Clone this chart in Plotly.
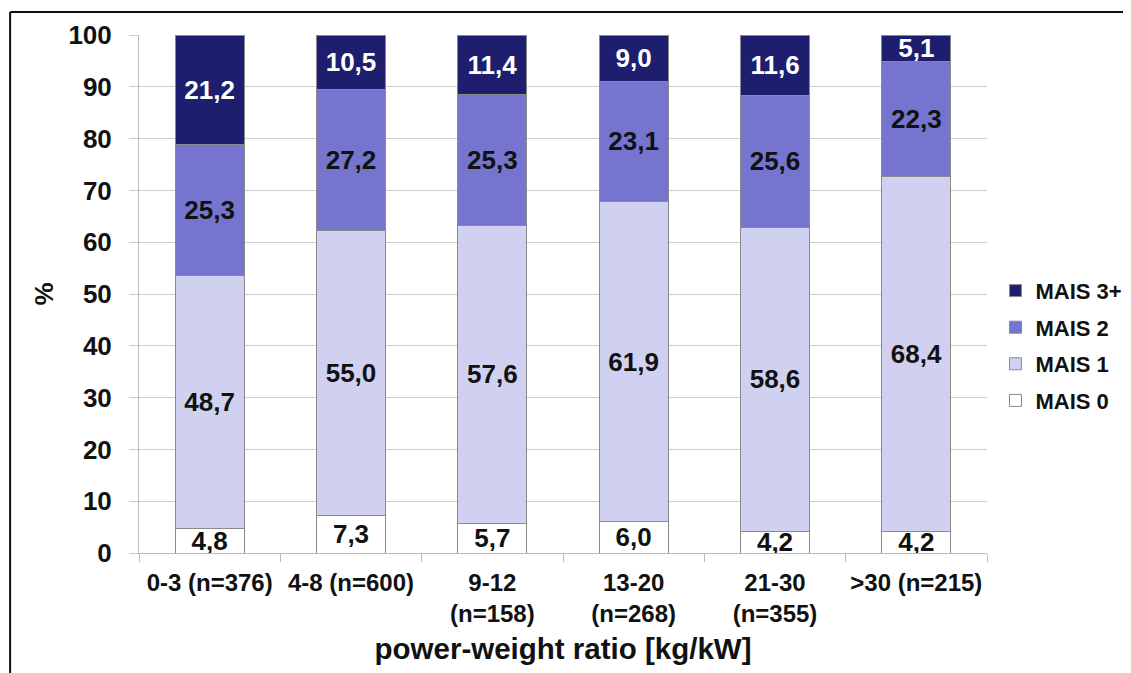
import plotly.graph_objects as go

categories = ["0-3 (n=376)", "4-8 (n=600)", "9-12<br>(n=158)", "13-20<br>(n=268)",
              "21-30<br>(n=355)", ">30 (n=215)"]
mais0 = [4.8, 7.3, 5.7, 6.0, 4.2, 4.2]
mais1 = [48.7, 55.0, 57.6, 61.9, 58.6, 68.4]
mais2 = [25.3, 27.2, 25.3, 23.1, 25.6, 22.3]
mais3 = [21.2, 10.5, 11.4, 9.0, 11.6, 5.1]

series = [
    ("MAIS 0", mais0, "#ffffff", "#111111", 4),
    ("MAIS 1", mais1, "#d0d0f0", "#111111", 3),
    ("MAIS 2", mais2, "#7575cf", "#111111", 2),
    ("MAIS 3+", mais3, "#1e1e6e", "#ffffff", 1),
]

font = "Liberation Sans, Arial, sans-serif"

fig = go.Figure()
for name, vals, color, tcol, rank in series:
    fig.add_trace(go.Bar(
        name=name, x=categories, y=vals, legendgroup=name, legendrank=rank,
        marker=dict(color=color, line=dict(color="#8a8a8a", width=1)),
        text=[f"{v:.1f}".replace(".", ",") for v in vals],
        textposition="inside", insidetextanchor="middle", textangle=0,
        textfont=dict(family=font, size=26, color=tcol, weight="bold"),
        constraintext="none",
    ))

fig.update_layout(
    barmode="stack", bargap=0.51,
    width=1131, height=673,
    margin=dict(l=131, r=144, t=27, b=128),
    paper_bgcolor="white", plot_bgcolor="white",
    font=dict(family=font, color="#111111"),
    uniformtext=dict(minsize=26, mode="show"),
    legend=dict(x=1.01, y=0.40, xanchor="left", yanchor="middle",
                traceorder="grouped",
                font=dict(family=font, size=22, color="#111111", weight="bold"),
                itemwidth=30, tracegroupgap=5),
    showlegend=True,
)
fig.update_xaxes(
    showline=True, linecolor="#bbbbbb", linewidth=1,
    ticks="outside", tickson="boundaries", ticklen=8, tickcolor="#bbbbbb",
    ticklabelstandoff=8,
    tickfont=dict(family=font, size=24, color="#111111", weight="bold"),
    title=dict(text="power-weight ratio [kg/kW]", standoff=12,
               font=dict(family=font, size=29.5, color="#111111", weight="bold")),
)
fig.update_yaxes(
    range=[0, 100], dtick=10, showgrid=True, gridcolor="#cccccc", gridwidth=1,
    showline=True, linecolor="#bbbbbb", linewidth=1,
    ticks="outside", ticklen=9, tickcolor="#cccccc",
    ticklabelstandoff=12,
    tickfont=dict(family=font, size=26, color="#111111", weight="bold"),
    title=dict(text="%", standoff=7,
               font=dict(family=font, size=26, color="#111111", weight="bold")),
    zeroline=False,
)
# frame lines of the original figure
fig.add_shape(type="line", xref="paper", yref="paper", x0=-0.152, x1=1.2, y0=1.0444, y1=1.0444,
              line=dict(color="#111111", width=2))
fig.add_shape(type="line", xref="paper", yref="paper", x0=-0.152, x1=-0.152, y0=1.0444, y1=-0.3,
              line=dict(color="#111111", width=2))

fig.write_html("out.html")
